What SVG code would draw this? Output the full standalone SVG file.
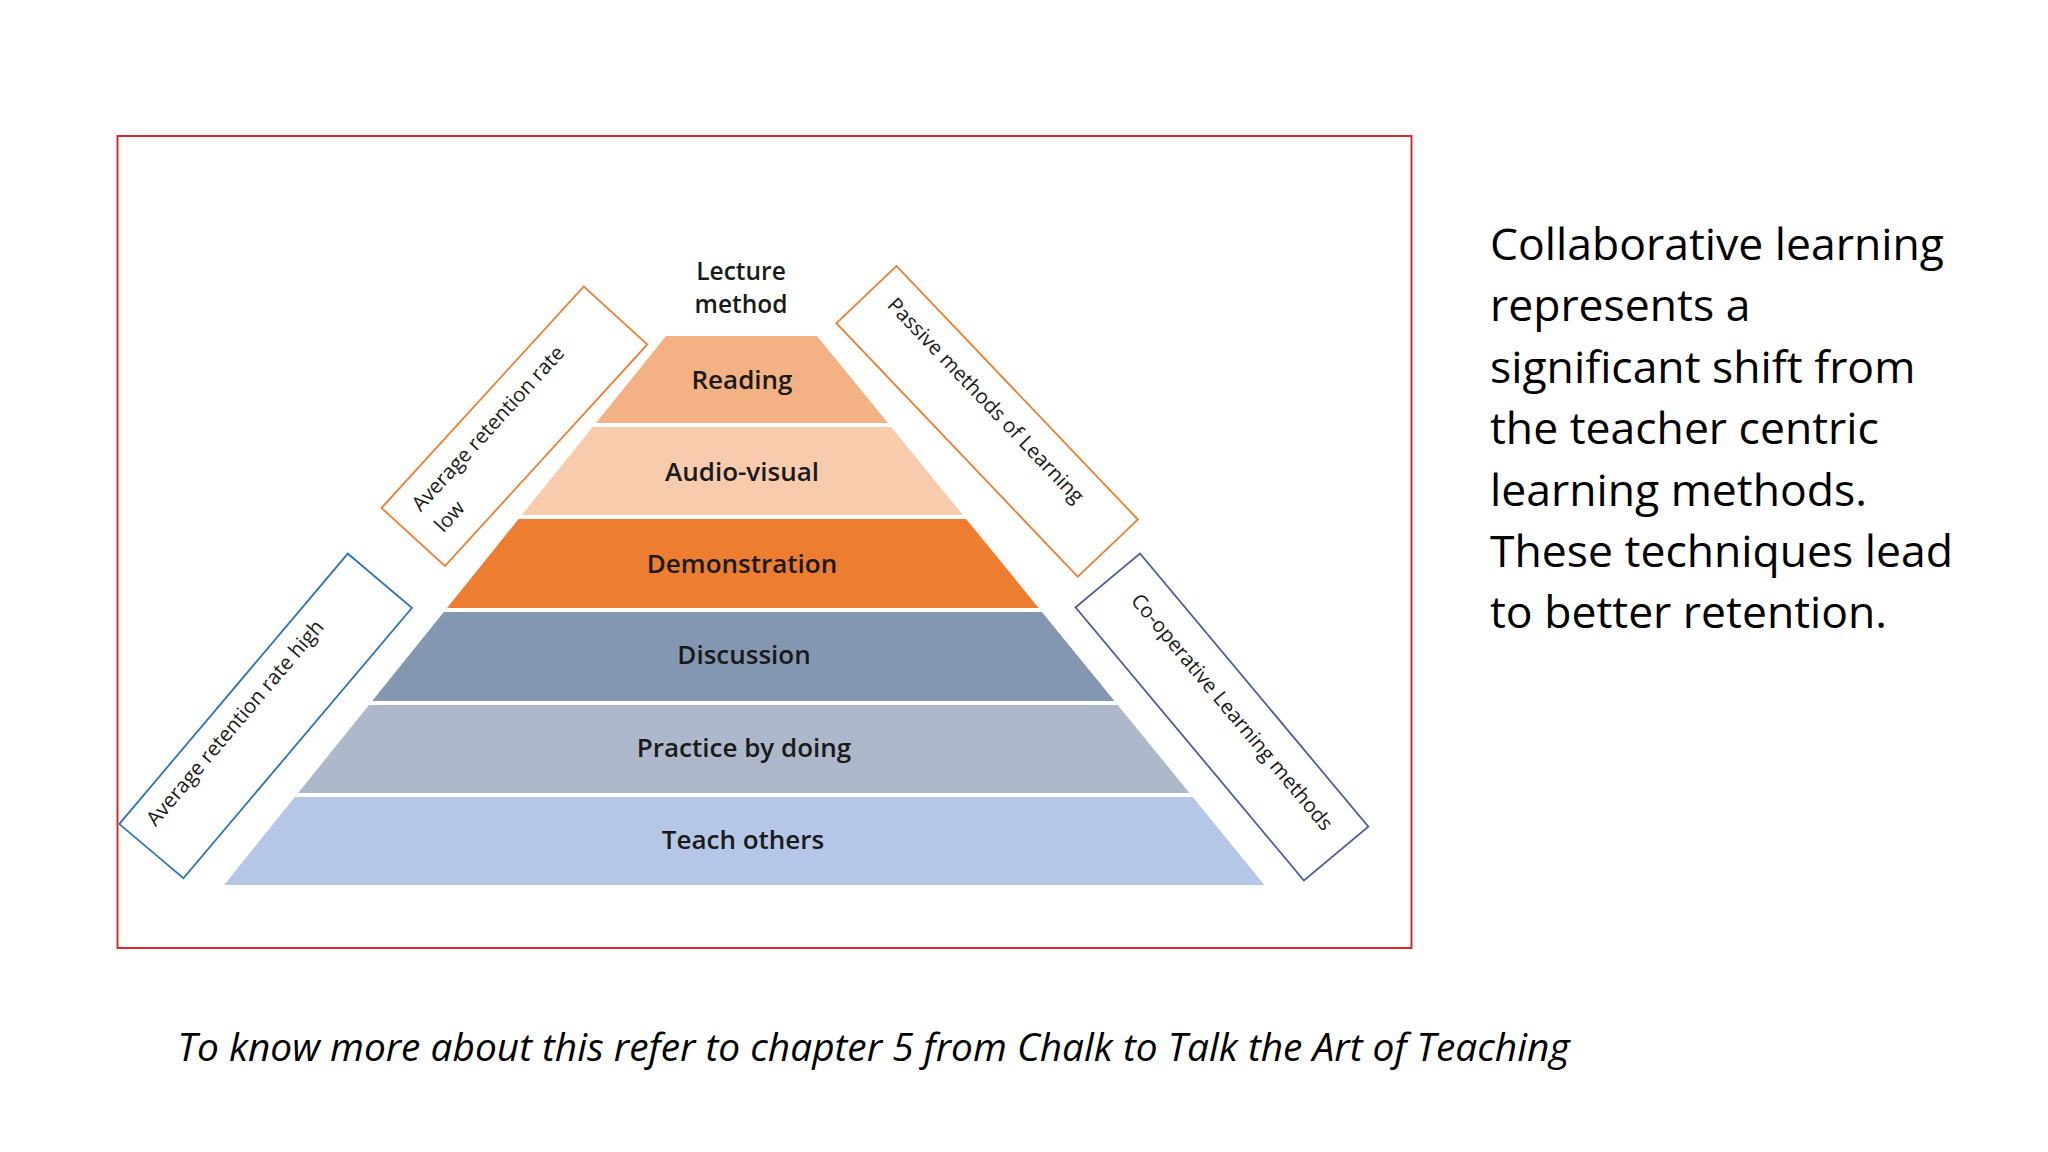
<svg xmlns="http://www.w3.org/2000/svg" width="2048" height="1152" viewBox="0 0 2048 1152">
  <style>
    .lbl { font-family: "Open Sans", "Liberation Sans", sans-serif; font-size: 26px; font-weight: 600; fill: #1a1a1a; text-anchor: middle; }
    .lec { font-family: "Open Sans", "Liberation Sans", sans-serif; font-size: 24.5px; font-weight: 600; fill: #1a1a1a; text-anchor: middle; }
    .box { fill: #ffffff; stroke-width: 1.8; }
    .boxtxt { font-family: "Open Sans", "Liberation Sans", sans-serif; font-size: 20.5px; font-weight: 500; fill: #1a1a1a; }
    .side { font-family: "Open Sans", "Liberation Sans", sans-serif; font-size: 44.5px; fill: #000000; }
    .foot { font-family: "Open Sans", "Liberation Sans", sans-serif; font-size: 38.5px; font-style: italic; fill: #000000; }
  </style>
  <rect x="0" y="0" width="2048" height="1152" fill="#ffffff"/>

  <!-- picture frame -->
  <rect id="frame" x="117.5" y="136" width="1294" height="812" fill="#ffffff" stroke="#D9282D" stroke-width="2"/>

  <!-- pyramid layers -->
  <g id="layer-reading">
    <polygon points="666,336 817,336 887.9,423 596,423" fill="#F4B183"/>
    <text class="lbl" x="742" y="388.5">Reading</text>
  </g>
  <g id="layer-audio-visual">
    <polygon points="592.7,427 891.2,427 962.9,515 521.9,515" fill="#F8CBAD"/>
    <text class="lbl" x="742" y="480.5">Audio-visual</text>
  </g>
  <g id="layer-demonstration">
    <polygon points="518.7,519 966.1,519 1038.7,608 447,608" fill="#ED7D31"/>
    <text class="lbl" x="742" y="573">Demonstration</text>
  </g>
  <g id="layer-discussion">
    <polygon points="443.8,612 1041.9,612 1114.5,701 372.2,701" fill="#8497B0"/>
    <text class="lbl" x="744" y="664">Discussion</text>
  </g>
  <g id="layer-practice">
    <polygon points="369,705 1117.7,705 1189.5,793 298.1,793" fill="#ADB9CA"/>
    <text class="lbl" x="744" y="756.5">Practice by doing</text>
  </g>
  <g id="layer-teach">
    <polygon points="294.9,797 1192.7,797 1264.4,885 224.1,885" fill="#B4C7E7"/>
    <text class="lbl" x="743" y="849">Teach others</text>
  </g>

  <g id="lecture-method">
    <text class="lec" x="741" y="279.5">Lecture</text>
    <text class="lec" x="741" y="313">method</text>
  </g>

  <!-- rotated side boxes -->
  <g id="box-low" transform="translate(381.5,508) rotate(-47.6)">
    <rect class="box" x="0" y="0" width="300" height="86" stroke="#ED7D31"/>
    <text class="boxtxt" x="23" y="32"><tspan x="23" y="32">Average retention rate</tspan><tspan x="23" y="63">low</tspan></text>
  </g>
  <g id="box-high" transform="translate(119.3,824) rotate(-49.8)">
    <rect class="box" x="0" y="0" width="354" height="84" stroke="#2E75B6"/>
    <text class="boxtxt" x="21" y="30">Average retention rate high</text>
  </g>
  <g id="box-passive" transform="translate(896.5,266) rotate(46.4)">
    <rect class="box" x="0" y="0" width="350" height="83" stroke="#ED7D31"/>
    <text class="boxtxt" x="22" y="35">Passive methods of Learning</text>
  </g>
  <g id="box-cooperative" transform="translate(1140,553.5) rotate(50.1)">
    <rect class="box" x="0" y="0" width="356" height="84" stroke="#4E5E99"/>
    <text class="boxtxt" x="30" y="38">Co-operative Learning methods</text>
  </g>

  <g id="connectors"/>

  <!-- side text -->
  <g id="side-text">
    <text class="side" x="1490" y="260">Collaborative learning</text>
    <text class="side" x="1490" y="321.4">represents a</text>
    <text class="side" x="1490" y="382.8">significant shift from</text>
    <text class="side" x="1490" y="444.2">the teacher centric</text>
    <text class="side" x="1490" y="505.6">learning methods.</text>
    <text class="side" x="1490" y="567">These techniques lead</text>
    <text class="side" x="1490" y="628.4">to better retention.</text>
  </g>

  <g id="footer">
    <text class="foot" x="177.6" y="1060.5" textLength="1392" lengthAdjust="spacingAndGlyphs">To know more about this refer to chapter 5 from Chalk to Talk the Art of Teaching</text>
  </g>
</svg>
